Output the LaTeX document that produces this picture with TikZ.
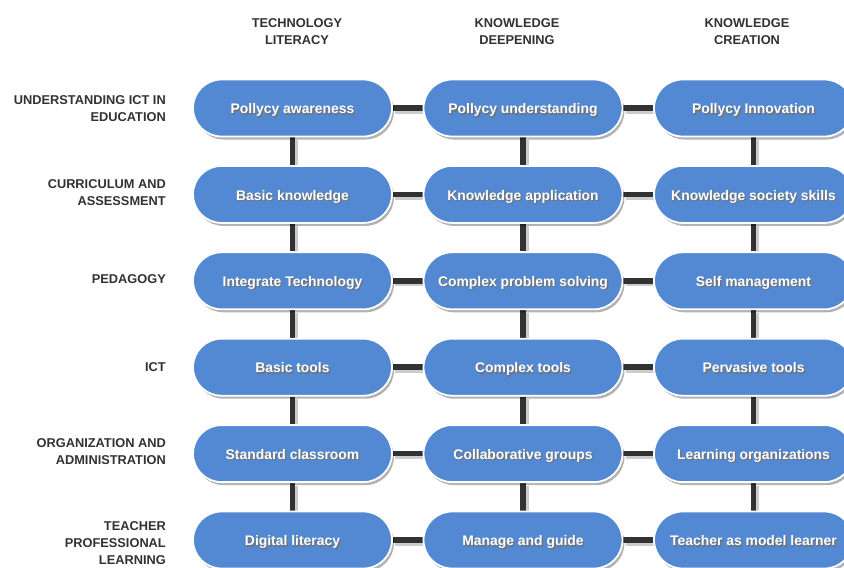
\documentclass[tikz,border=0pt]{standalone}
\usepackage{fontspec}
\setmainfont{Liberation Sans}
\usetikzlibrary{shapes.misc,shadows,backgrounds}
\definecolor{boxblue}{RGB}{82,137,210}
\definecolor{darktxt}{RGB}{50,50,50}
\newcommand{\shtext}[1]{\makebox[0pt][l]{\hspace{1.3pt}\raisebox{-1.4pt}{\textcolor{black!55}{#1}}}#1}
\tikzset{
  box/.style={rounded rectangle, minimum width=203pt, minimum height=57pt, inner sep=2pt,
    fill=boxblue, draw=white, line width=1.8pt, text=white,
    text height=11.5pt, text depth=0pt,
    font=\fontsize{13.9}{16}\selectfont\bfseries,
    drop shadow={shadow xshift=2pt, shadow yshift=-3pt, opacity=0.3, fill=black}},
  header/.style={font=\fontsize{12.8}{17}\selectfont\bfseries, text=darktxt, align=center, inner sep=0pt},
  rowlab/.style={header, align=right, anchor=east},
  conn/.style={line width=5.5pt, draw=darktxt},
  connsh/.style={line width=6pt, draw=black!20, transform canvas={xshift=2.5pt,yshift=-2.5pt}}
}
\begin{document}
\begin{tikzpicture}[x=1pt,y=-1pt]
\useasboundingbox (0,0) rectangle (844,568);
\clip (0,0) rectangle (844,568);

% column headers
\node[header] (h1) at (297,31.5) {TECHNOLOGY\\LITERACY};
\node[header] (h2) at (517,31.5) {KNOWLEDGE\\DEEPENING};
\node[header] (h3) at (747,31.5) {KNOWLEDGE\\CREATION};

% row labels
\node[rowlab] (l1) at (166,108.5) {UNDERSTANDING ICT IN\\EDUCATION};
\node[rowlab] (l2) at (166,192.5) {CURRICULUM AND\\ASSESSMENT};
\node[rowlab] (l3) at (166,279) {PEDAGOGY};
\node[rowlab] (l4) at (166,367) {ICT};
\node[rowlab] (l5) at (166,451.5) {ORGANIZATION AND\\ADMINISTRATION};
\node[rowlab] (l6) at (166,543) {TEACHER\\PROFESSIONAL\\LEARNING};

% boxes
\foreach \y/\ta/\tb/\tc [count=\i] in {
  108/Pollycy awareness/Pollycy understanding/Pollycy Innovation,
  194.4/Basic knowledge/Knowledge application/Knowledge society skills,
  280.8/Integrate Technology/Complex problem solving/Self management,
  367.2/Basic tools/Complex tools/Pervasive tools,
  453.6/Standard classroom/Collaborative groups/Learning organizations,
  540/Digital literacy/Manage and guide/Teacher as model learner}{
  \node[box] (r\i c1) at (292.5,\y) {\shtext{\ta}};
  \node[box] (r\i c2) at (523,\y) {\shtext{\tb}};
  \node[box] (r\i c3) at (753.5,\y) {\shtext{\tc}};
}

% connectors
\begin{scope}[on background layer]
  \fill[white] (0,0) rectangle (844,568);
  \foreach \i in {1,...,6}{
    \draw[connsh] (r\i c1.east) -- (r\i c2.west);
    \draw[connsh] (r\i c2.east) -- (r\i c3.west);
    \draw[conn] (r\i c1.east) -- (r\i c2.west);
    \draw[conn] (r\i c2.east) -- (r\i c3.west);
  }
  \foreach \i [evaluate=\i as \j using int(\i+1)] in {1,...,5}{
    \foreach \c in {1,2,3}{
      \draw[connsh] (r\i c\c.south) -- (r\j c\c.north);
      \draw[conn] (r\i c\c.south) -- (r\j c\c.north);
    }
  }
\end{scope}
\end{tikzpicture}
\end{document}
